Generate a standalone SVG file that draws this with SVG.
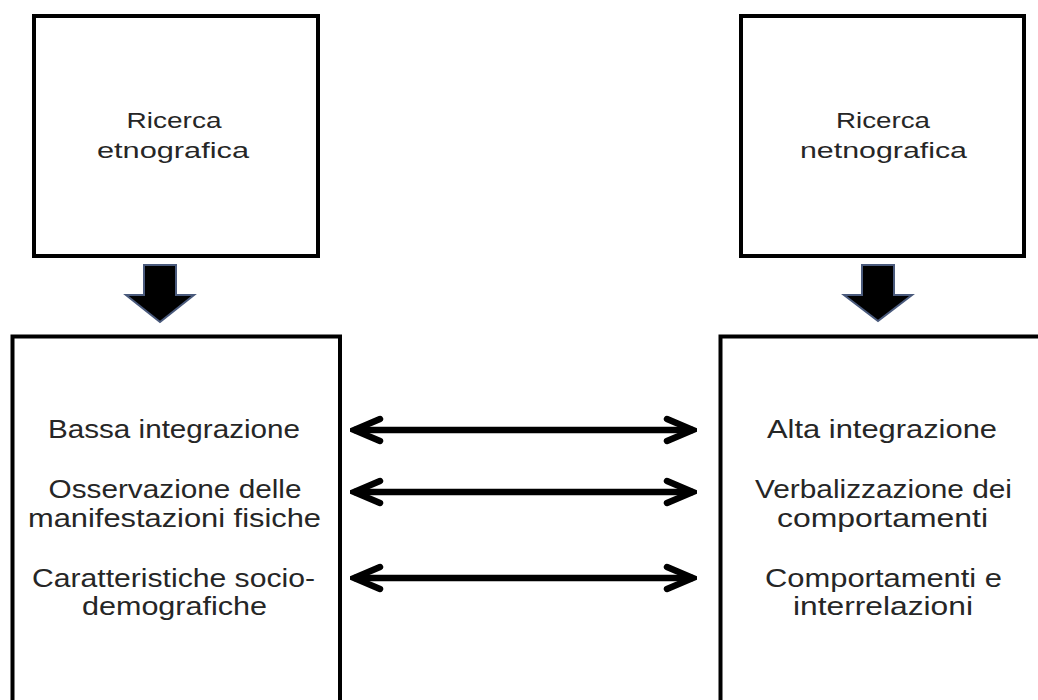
<svg xmlns="http://www.w3.org/2000/svg" width="1038" height="700" viewBox="0 0 1038 700">
  <style>
    .box { fill: #ffffff; stroke: #000000; stroke-width: 4; }
    .title { font-family: "Liberation Sans", Arial, sans-serif; font-size: 22px; fill: #262626; text-anchor: middle; }
    .item { font-family: "Liberation Sans", Arial, sans-serif; font-size: 25px; fill: #262626; text-anchor: middle; }
    .down { fill: #000000; stroke: #4a5a7c; stroke-width: 2; stroke-linejoin: miter; }
    .link { stroke: #000000; stroke-width: 6.5; fill: none; marker-start: url(#chevron); marker-end: url(#chevron); }
  </style>
  <defs>
    <marker id="chevron" markerUnits="userSpaceOnUse" viewBox="0 0 40 30" refX="36" refY="15" markerWidth="40" markerHeight="30" orient="auto-start-reverse">
      <path d="M 10 4 L 36 15 L 10 26" fill="none" stroke="#000000" stroke-width="6.5" stroke-linecap="round" stroke-linejoin="miter"/>
    </marker>
  </defs>
  <rect width="1038" height="700" fill="#ffffff"/>

  <g id="ricerca-etnografica">
    <rect class="box" x="34" y="16" width="284" height="240"/>
    <text class="title" x="174" y="128" textLength="95" lengthAdjust="spacingAndGlyphs">Ricerca</text>
    <text class="title" x="173" y="158" textLength="152" lengthAdjust="spacingAndGlyphs">etnografica</text>
  </g>

  <g id="ricerca-netnografica">
    <rect class="box" x="741" y="16" width="283" height="240"/>
    <text class="title" x="883" y="128" textLength="94" lengthAdjust="spacingAndGlyphs">Ricerca</text>
    <text class="title" x="883.5" y="158" textLength="167" lengthAdjust="spacingAndGlyphs">netnografica</text>
  </g>

  <g id="caratteri-etnografia">
    <rect class="box" x="12.5" y="336.5" width="327.5" height="380"/>
    <text class="item" x="174" y="438" textLength="252" lengthAdjust="spacingAndGlyphs">Bassa integrazione</text>
    <text class="item" x="175" y="498" textLength="253" lengthAdjust="spacingAndGlyphs">Osservazione delle</text>
    <text class="item" x="174.5" y="527" textLength="293" lengthAdjust="spacingAndGlyphs">manifestazioni fisiche</text>
    <text class="item" x="173.5" y="587" textLength="283" lengthAdjust="spacingAndGlyphs">Caratteristiche socio-</text>
    <text class="item" x="174.5" y="615" textLength="185" lengthAdjust="spacingAndGlyphs">demografiche</text>
  </g>

  <g id="caratteri-netnografia">
    <rect class="box" x="720.5" y="336.5" width="340" height="380"/>
    <text class="item" x="882" y="438" textLength="230" lengthAdjust="spacingAndGlyphs">Alta integrazione</text>
    <text class="item" x="883.5" y="498" textLength="257" lengthAdjust="spacingAndGlyphs">Verbalizzazione dei</text>
    <text class="item" x="882.5" y="527" textLength="211" lengthAdjust="spacingAndGlyphs">comportamenti</text>
    <text class="item" x="883.5" y="587" textLength="237" lengthAdjust="spacingAndGlyphs">Comportamenti e</text>
    <text class="item" x="883" y="615" textLength="180" lengthAdjust="spacingAndGlyphs">interrelazioni</text>
  </g>

  <g id="connectors">
    <!-- block arrows from each research box to its characteristics -->
    <path class="down" d="M 144 265 H 176 V 295 H 194 L 160 322 L 126 295 H 144 Z"/>
    <path class="down" d="M 862 265 H 894 V 295 H 912 L 878 321 L 844 295 H 862 Z"/>
    <!-- two-way comparison arrows -->
    <line class="link" x1="354" y1="430" x2="693" y2="430"/>
    <line class="link" x1="354" y1="492" x2="693" y2="492"/>
    <line class="link" x1="354" y1="578" x2="693" y2="578"/>
  </g>
</svg>
